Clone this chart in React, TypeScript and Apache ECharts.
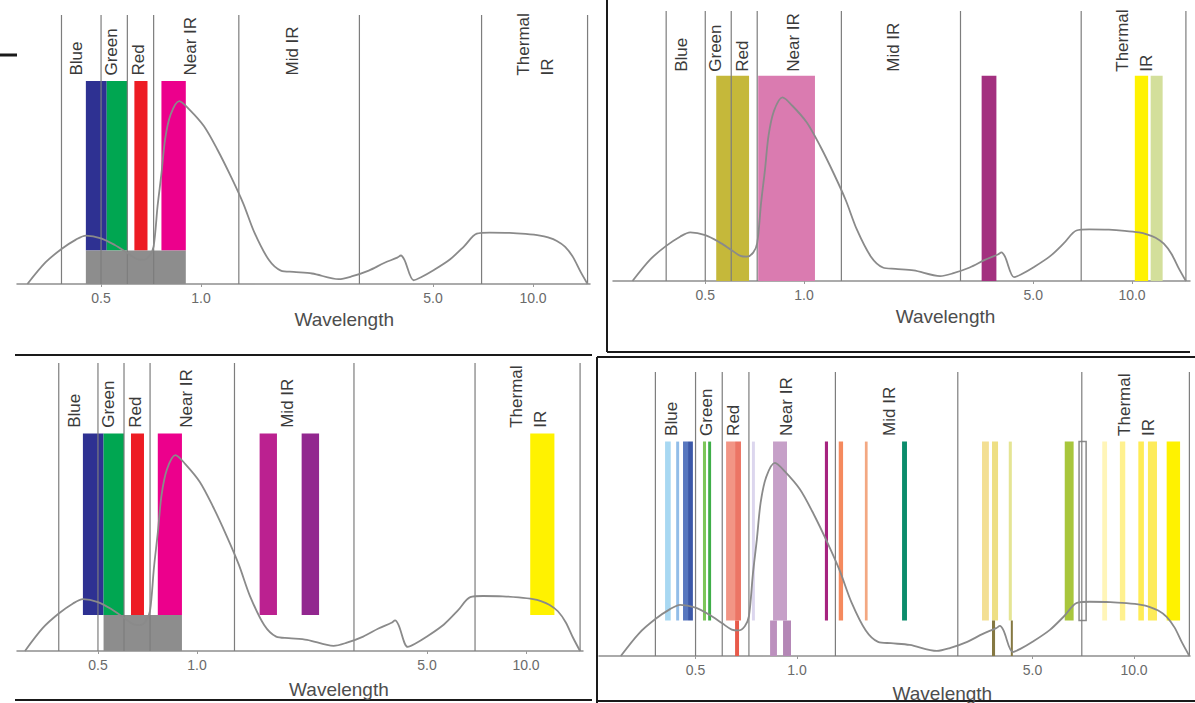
import React, { useEffect, useRef } from 'react';
import * as echarts from 'echarts';

// ---- data ----
const CURVE_WAVELENGTH = [0.30,0.34,0.38,0.42,0.45,0.50,0.55,0.60,0.64,0.67,0.70,0.72,0.74,0.76,0.78,0.81,0.86,0.92,1.02,1.12,1.23,1.34,1.45,1.6,1.74,1.9,2.16,2.6,2.84,3.2,3.56,3.9,4.0,4.1,4.37,4.6,5.0,5.63,6.2,6.77,7.4,8.5,9.5,10.5,11.1,11.8,12.5,13.2,13.9,14.6];
const CURVE_RESPONSE = [0,8,13,16.5,18,17,14.5,11.5,9.3,9,10.5,14,29,41,54,63,68,65,58.7,50,40,30,19,9,5,4.5,3.9,1.8,2.8,5,7.8,9.8,10.6,9,1.4,2.5,5,9.2,14,18.7,19.1,19,18.6,18,17.3,16,13.8,10,4.6,0];

const REGION_BOUNDS = [0.38, 0.5, 0.6, 0.72, 1.3, 3.0, 7.0, 14.6];
const REGION_NAMES = ['Blue', 'Green', 'Red', 'Near IR', 'Mid IR', 'Thermal\nIR'];
const REGION_LABEL_AT = [0.423, 0.537, 0.648, 0.93, 1.88, 10.2];
const TICK_VALUES = [0.5, 1.0, 5.0, 10.0];
const AXIS_TITLE = 'Wavelength';
const AXIS_TITLE_AT = 2.7;

// panel 1
const P1_BANDS = [[0.45, 0.52], [0.52, 0.60], [0.63, 0.69], [0.76, 0.90]];
const P1_PAN = [[0.45, 0.90]];
// panel 2
const P2_BANDS = [[0.54, 0.68], [0.725, 1.08], [3.48, 3.86], [10.2, 11.2], [11.4, 12.4]];
// panel 3
const P3_BANDS = [[0.45, 0.52], [0.52, 0.60], [0.63, 0.69], [0.76, 0.90], [1.55, 1.75], [2.08, 2.35], [10.3, 12.2]];
const P3_PAN = [[0.52, 0.90]];
// panel 4
const P4_BANDS = [[0.406, 0.422], [0.438, 0.447], [0.459, 0.475], [0.475, 0.491], [0.526, 0.537], [0.545, 0.556], [0.616, 0.655], [0.655, 0.682], [0.735, 0.75], [0.849, 0.934], [1.21, 1.236], [1.33, 1.37], [1.59, 1.62], [2.05, 2.12], [3.54, 3.71], [3.79, 3.95], [4.25, 4.34], [6.23, 6.62], [8.05, 8.32], [9.08, 9.42], [10.3, 10.7], [11.0, 11.7], [12.5, 13.7]];
const P4_LOWER = [[0.655, 0.673], [0.832, 0.872], [0.909, 0.96], [3.79, 3.87], [4.31, 4.37]];
const P4_OUTLINE = [[6.87, 7.21]];

// ---- styles / layout ----
const P1_COLORS = ['#2e3192', '#00a651', '#ed1c24', '#ec008c'];
const P2_COLORS = ['#c5b83a', '#da7bb0', '#a3307f', '#fff200', '#d3df9b'];
const P3_COLORS = ['#2e3192', '#00a651', '#ed1c24', '#ec008c', '#bb2190', '#92278f', '#fff200'];
const P4_COLORS = ['#a8d8f2', '#92bde8', '#5877bf', '#3c58a8', '#7dc65a', '#3fae49', '#f29585', '#ec7565', '#dcd6ee', '#c6a0c8', '#a6237f', '#f58a5e', '#f3a882', '#0b8c6b', '#f3df93', '#eedf84', '#e5e594', '#a8c63c', '#fff5b8', '#fff18f', '#ffec55', '#fdeb5a', '#fff200'];
const P4_LOWER_COLORS = ['#e85a4a', '#bc90be', '#b487b6', '#857842', '#857842'];
const PAN_COLOR = '#8d8d8d';

const PANELS = [
  { a: 201, b: 332, left: 17, right: 590, top: 15, bottom: 284,
    layers: [
      { ranges: P1_BANDS, colors: P1_COLORS, lo: 12.5, hi: 75.5 },
      { ranges: P1_PAN, colors: [PAN_COLOR], lo: 0, hi: 12.5 },
    ] },
  { a: 804, b: 328, left: 613, right: 1190, top: 11, bottom: 281,
    layers: [
      { ranges: P2_BANDS, colors: P2_COLORS, lo: 0, hi: 76 },
    ] },
  { a: 197, b: 329, left: 17, right: 583, top: 363, bottom: 651,
    layers: [
      { ranges: P3_BANDS, colors: P3_COLORS, lo: 12.5, hi: 75.5 },
      { ranges: P3_PAN, colors: [PAN_COLOR], lo: 0, hi: 12.5 },
    ] },
  { a: 797, b: 337, left: 599, right: 1190, top: 372, bottom: 656,
    layers: [
      { ranges: P4_BANDS, colors: P4_COLORS, lo: 12.5, hi: 75.5 },
      { ranges: P4_LOWER, colors: P4_LOWER_COLORS, lo: 0, hi: 12.5 },
      { ranges: P4_OUTLINE, colors: ['#ffffff'], stroke: '#8a8a8a', lo: 12.5, hi: 75.5 },
    ] },
];

const FONT = '"Liberation Sans", Arial, Helvetica, sans-serif';
const L = Math.log10;

function buildOption() {
  const grid: any[] = [];
  const xAxis: any[] = [];
  const yAxis: any[] = [];
  const series: any[] = [];

  PANELS.forEach((p, i) => {
    grid.push({ left: p.left, top: p.top, width: p.right - p.left, height: p.bottom - p.top, containLabel: false });
    xAxis.push({
      type: 'value', gridIndex: i,
      min: (p.left - p.a) / p.b, max: (p.right - p.a) / p.b,
      splitLine: { show: false },
      axisLine: { show: true, lineStyle: { color: '#8f8f8f', width: 1.5 } },
      axisTick: { show: true, customValues: TICK_VALUES.map(L), length: 3, lineStyle: { color: '#999' } },
      axisLabel: {
        customValues: TICK_VALUES.map(L), margin: 7,
        formatter: (v: number) => Math.pow(10, v).toFixed(1),
        color: '#6a6a6a', fontSize: 14, fontFamily: FONT,
      },
    });
    yAxis.push({ type: 'value', gridIndex: i, min: 0, max: 100, show: false });

    // bands
    const bandData: any[] = [];
    const bandStyle: any[] = [];
    p.layers.forEach((layer: any) => {
      layer.ranges.forEach((r: number[], k: number) => {
        bandData.push([L(r[0]), layer.lo, L(r[1]), layer.hi]);
        bandStyle.push({ fill: layer.colors[k] || layer.colors[0], stroke: layer.stroke });
      });
    });
    series.push({
      type: 'custom', xAxisIndex: i, yAxisIndex: i, z: 2, clip: false, silent: true,
      data: bandData,
      renderItem: (params: any, api: any) => {
        const s = bandStyle[params.dataIndex];
        const p0 = api.coord([api.value(0), api.value(3)]);
        const p1 = api.coord([api.value(2), api.value(1)]);
        return {
          type: 'rect',
          shape: { x: p0[0], y: p0[1], width: p1[0] - p0[0], height: p1[1] - p0[1] },
          style: s.stroke ? { fill: s.fill, stroke: s.stroke, lineWidth: 1.5 } : { fill: s.fill },
        };
      },
    });

    // region boundary lines
    series.push({
      type: 'custom', xAxisIndex: i, yAxisIndex: i, z: 3, clip: false, silent: true,
      data: REGION_BOUNDS.map((w) => [L(w), 0]),
      renderItem: (params: any, api: any) => {
        const a = api.coord([api.value(0), 0]);
        const b = api.coord([api.value(0), 100]);
        return { type: 'line', shape: { x1: a[0], y1: a[1], x2: b[0], y2: b[1] }, style: { stroke: '#7d7d7d', lineWidth: 1.2 } };
      },
    });

    // response curve
    series.push({
      type: 'line', xAxisIndex: i, yAxisIndex: i, z: 4, silent: true,
      data: CURVE_WAVELENGTH.map((w, k) => [L(w), CURVE_RESPONSE[k]]),
      smooth: 0.3, showSymbol: false,
      lineStyle: { color: '#8a8a8a', width: 1.8 },
    });

    // region names + axis title
    const labelData = REGION_LABEL_AT.map((w) => [L(w), 77.5]);
    labelData.push([L(AXIS_TITLE_AT), -13.3]);
    series.push({
      type: 'custom', xAxisIndex: i, yAxisIndex: i, z: 5, clip: false, silent: true,
      data: labelData,
      renderItem: (params: any, api: any) => {
        const pt = api.coord([api.value(0), api.value(1)]);
        const idx = params.dataIndex;
        if (idx === REGION_NAMES.length) {
          return {
            type: 'text', x: pt[0], y: pt[1],
            style: { text: AXIS_TITLE, align: 'center', verticalAlign: 'middle', fontSize: 19, fontFamily: FONT, fill: '#4d4d4d' },
          };
        }
        return {
          type: 'text', x: pt[0], y: pt[1], rotation: Math.PI / 2,
          style: { text: REGION_NAMES[idx], align: 'left', verticalAlign: 'middle', fontSize: 17, lineHeight: 24, fontFamily: FONT, fill: '#3a3a3a' },
        };
      },
    });
  });

  const ln = (x1: number, y1: number, x2: number, y2: number, w = 2) => ({
    type: 'line', silent: true, shape: { x1, y1, x2, y2 }, style: { stroke: '#1a1a1a', lineWidth: w },
  });

  return {
    animation: false,
    backgroundColor: '#ffffff',
    grid, xAxis, yAxis, series,
    graphic: [
      ln(0, 55, 17, 55, 3),
      ln(607, 0, 607, 352),
      ln(607, 352, 1190, 352),
      ln(15, 355, 592, 355),
      ln(15, 700, 592, 700),
      ln(597, 357, 597, 703),
      ln(597, 357, 1195, 357),
      ln(597, 701, 1195, 701),
    ],
  };
}

export default function App() {
  const ref = useRef<HTMLDivElement>(null);
  useEffect(() => {
    if (!ref.current) return;
    const chart = echarts.init(ref.current, null, { renderer: 'svg' });
    chart.setOption(buildOption() as any);
    return () => chart.dispose();
  }, []);
  return <div ref={ref} style={{ position: 'fixed', left: 0, top: 0, width: 1195, height: 703, background: '#fff' }} />;
}
